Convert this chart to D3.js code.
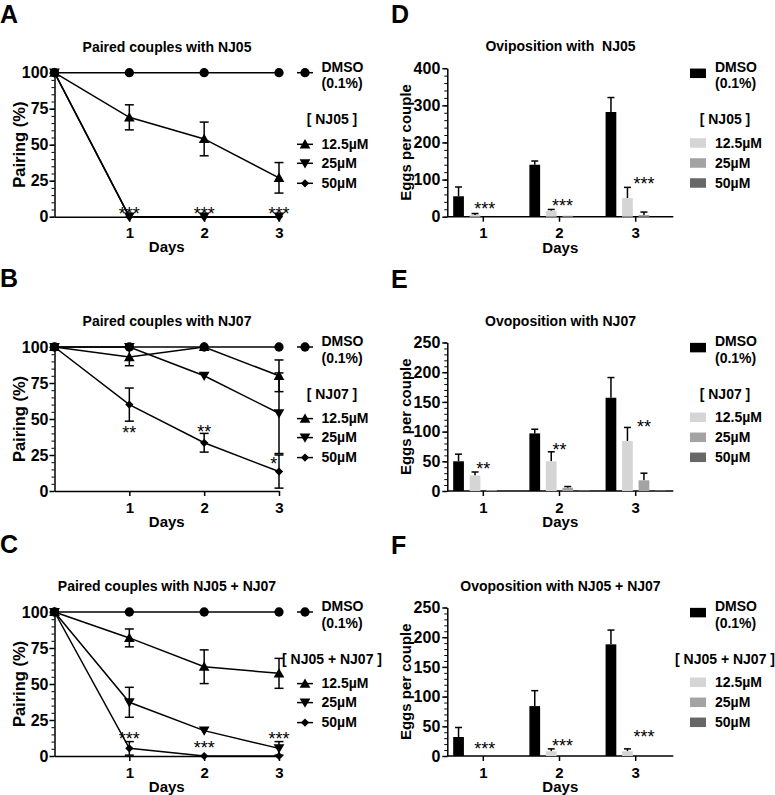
<!DOCTYPE html>
<html><head><meta charset="utf-8">
<script src="https://cdn.jsdelivr.net/npm/d3@7"></script>
<style>
html,body{margin:0;padding:0;background:#fff;}
svg{display:block;}
</style></head><body>
<svg id="chart" width="775" height="795"></svg>
<script>
// ================= DATA =================
const dayTicks = [1, 2, 3];
const lineDays = [0, 1, 2, 3];
const seriesNames = ["DMSO", "12.5µM", "25µM", "50µM"];
const concLabels = ["12.5µM", "25µM", "50µM"];
const panelLetters = ["A", "B", "C", "D", "E", "F"];
const lineTitles = ["Paired couples with NJ05", "Paired couples with NJ07", "Paired couples with NJ05 + NJ07"];
const barTitles = ["Oviposition with  NJ05", "Ovoposition with NJ07", "Ovoposition with NJ05 + NJ07"];
const headings = ["[ NJ05 ]", "[ NJ07 ]", "[ NJ05 + NJ07 ]"];
const pairTicks = [0, 25, 50, 75, 100];

// Panel A – pairing (%)
const pairA_DMSO = [100, 100, 100, 100];
const pairA_12 = [100, 69, 54, 27];
const pairA_12_err = [0, 8.7, 11.7, 10.6];
const pairA_25 = [100, 0, 0, 0];
const pairA_25_err = [0, 0, 0, 0];
const pairA_50 = [100, 0, 0, 0];
const pairA_50_err = [0, 0, 0, 0];
const starsA = [{day: 1, val: 5, txt: "***", dx: 0}, {day: 2, val: 5, txt: "***", dx: 0}, {day: 3, val: 5, txt: "***", dx: 0}];

// Panel B
const pairB_DMSO = [100, 100, 100, 100];
const pairB_12 = [100, 93, 100, 80];
const pairB_12_err = [0, 6, 0, 11];
const pairB_25 = [100, 100, 80, 54];
const pairB_25_err = [0, 0, 0, 28];
const pairB_50 = [100, 60, 33.5, 13.5];
const pairB_50_err = [0, 11.5, 6.5, 11.5];
const starsB = [{day: 1, val: 43, txt: "**", dx: 0}, {day: 2, val: 44, txt: "**", dx: 0}, {day: 3, val: 21.5, txt: "*", dx: -0.07}];

// Panel C
const pairC_DMSO = [100, 100, 100, 100];
const pairC_12 = [100, 82, 62, 57.4];
const pairC_12_err = [0, 6.2, 11.7, 10.4];
const pairC_25 = [100, 37.3, 17.6, 5.3];
const pairC_25_err = [0, 10.4, 0, 4.7];
const pairC_50 = [100, 5.3, 0, 0];
const pairC_50_err = [0, 4.7, 0, 0];
const starsC = [{day: 1, val: 14.6, txt: "***", dx: 0}, {day: 2, val: 8.1, txt: "***", dx: 0}, {day: 3, val: 14.6, txt: "***", dx: 0}];

// Panel D – eggs per couple
const eggsD_DMSO = [55, 140, 282];
const eggsD_DMSO_err = [25, 10, 39];
const eggsD_12 = [4.5, 16, 50];
const eggsD_12_err = [4, 3.5, 29];
const eggsD_25 = [0, 2.5, 4.5];
const eggsD_25_err = [0, 0, 8];
const eggsD_50 = [0, 0, 0];
const eggsD_50_err = [0, 0, 0];
const eggsD_ticks = [0, 100, 200, 300, 400];
const starsD = [{day: 1, val: 31.5, txt: "***", dx: 0.02}, {day: 2, val: 40.4, txt: "***", dx: 0.04}, {day: 3, val: 99, txt: "***", dx: 0.11}];

// Panel E
const eggsE_DMSO = [50, 97, 157];
const eggsE_DMSO_err = [12, 7, 34];
const eggsE_12 = [26, 50, 84];
const eggsE_12_err = [6, 16, 23];
const eggsE_25 = [1.5, 5.5, 18];
const eggsE_25_err = [0, 2, 12];
const eggsE_50 = [0, 1.5, 1.5];
const eggsE_50_err = [0, 0, 0];
const eggsE_ticks = [0, 50, 100, 150, 200, 250];
const starsE = [{day: 1, val: 43.5, txt: "**", dx: 0}, {day: 2, val: 75, txt: "**", dx: 0}, {day: 3, val: 115, txt: "**", dx: 0.11}];

// Panel F
const eggsF_DMSO = [32, 84, 188];
const eggsF_DMSO_err = [16, 26, 24];
const eggsF_12 = [0, 8, 8];
const eggsF_12_err = [0, 4, 4];
const eggsF_25 = [0, 0, 0];
const eggsF_25_err = [0, 0, 0];
const eggsF_50 = [0, 0, 0];
const eggsF_50_err = [0, 0, 0];
const eggsF_ticks = [0, 50, 100, 150, 200, 250];
const starsF = [{day: 1, val: 18.4, txt: "***", dx: 0.02}, {day: 2, val: 24, txt: "***", dx: 0.04}, {day: 3, val: 38, txt: "***", dx: 0.11}];

// ================= LAYOUT / STYLE =================
const FONT = "'Liberation Sans', Arial, Helvetica, sans-serif";
const rowTop = [72.7, 347, 612];
const letterBase = [22.7, 287, 553];
const plotH = 144;
const barColors = ["#000000", "#d5d5d5", "#a3a3a3", "#676767"];

const svg = d3.select("#chart").attr("font-family", FONT);

function txt(g, x, y, s, size, anchor) {
  return g.append("text").attr("x", x).attr("y", y).text(s)
    .attr("font-size", size).attr("font-weight", "bold")
    .attr("text-anchor", anchor || "start").attr("fill", "#000")
    .style("white-space", "pre");
}
function styleAxis(g, fs) {
  g.attr("font-family", FONT).attr("font-size", fs).attr("font-weight", "bold");
  g.selectAll("path.domain").attr("stroke-width", 1.5).attr("stroke", "#000");
  g.selectAll(".tick line").attr("stroke-width", 1.5).attr("stroke", "#000");
  g.selectAll(".tick text").attr("fill", "#000");
}

const symCircle = d3.symbol().type(d3.symbolCircle).size(68)();
const symTri = d3.symbol().type(d3.symbolTriangle).size(50)();
const symDiamond = d3.symbol().type(d3.symbolSquare).size(34)();
function marker(g, k, cx, cy) {
  if (k === 0) g.append("path").attr("d", symCircle).attr("transform", `translate(${cx},${cy})`);
  else if (k === 1) g.append("path").attr("d", symTri).attr("transform", `translate(${cx},${cy + 1})`);
  else if (k === 2) g.append("path").attr("d", symTri).attr("transform", `translate(${cx},${cy - 1}) rotate(180)`);
  else g.append("path").attr("d", symDiamond).attr("transform", `translate(${cx},${cy}) rotate(45)`);
}

// ================= LINE PANELS =================
const linePanels = [
  {vals: [pairA_DMSO, pairA_12, pairA_25, pairA_50], errs: [null, pairA_12_err, pairA_25_err, pairA_50_err], stars: starsA},
  {vals: [pairB_DMSO, pairB_12, pairB_25, pairB_50], errs: [null, pairB_12_err, pairB_25_err, pairB_50_err], stars: starsB},
  {vals: [pairC_DMSO, pairC_12, pairC_25, pairC_50], errs: [null, pairC_12_err, pairC_25_err, pairC_50_err], stars: starsC}
];

linePanels.forEach((p, i) => {
  const top = rowTop[i], bottom = top + plotH;
  const x = d3.scaleLinear().domain([0, 3]).range([54.5, 279]);
  const y = d3.scaleLinear().domain([0, 100]).range([bottom, top]);
  const g = svg.append("g");

  txt(g, 0, letterBase[i], panelLetters[i], 25);
  txt(g, 167, top - 21, lineTitles[i], 14, "middle");

  // minor ticks
  const minor = g.append("g").attr("transform", `translate(${x(0)},0)`)
    .call(d3.axisLeft(y).tickValues(d3.range(0, 101, 5)).tickSize(3).tickFormat(""));
  minor.select(".domain").remove();
  minor.selectAll(".tick line").attr("stroke", "#000").attr("stroke-width", 1);
  const ya = g.append("g").attr("transform", `translate(${x(0)},0)`)
    .call(d3.axisLeft(y).tickValues(pairTicks).tickSize(5).tickSizeOuter(0).tickPadding(1));
  styleAxis(ya, 16);
  const xa = g.append("g").attr("transform", `translate(0,${bottom})`)
    .call(d3.axisBottom(x).tickValues(dayTicks).tickFormat(d3.format("d")).tickSize(5).tickSizeOuter(0).tickPadding(6));
  styleAxis(xa, 15);

  txt(g, 0, 0, "Pairing (%)", 16.5, "middle").attr("transform", `translate(24.5,${(top + bottom) / 2}) rotate(-90)`);
  txt(g, (x(0) + x(3)) / 2, bottom + 35.5, "Days", 15, "middle");

  const line = d3.line().x((d, j) => x(lineDays[j])).y(d => y(d));
  p.vals.forEach((vals, k) => {
    g.append("path").attr("d", line(vals)).attr("fill", "none").attr("stroke", "#000").attr("stroke-width", 1.5);
    const errs = p.errs[k];
    if (errs) errs.forEach((e, j) => {
      if (e <= 0) return;
      const cx = x(lineDays[j]);
      const y1 = y(vals[j] + e), y2 = y(Math.max(0, vals[j] - e));
      g.append("line").attr("x1", cx).attr("x2", cx).attr("y1", y1).attr("y2", y2).attr("stroke", "#000").attr("stroke-width", 1.5);
      [y1, y2].forEach(yy => g.append("line").attr("x1", cx - 4.5).attr("x2", cx + 4.5).attr("y1", yy).attr("y2", yy).attr("stroke", "#000").attr("stroke-width", 1.5));
    });
    vals.forEach((v, j) => marker(g, k, x(lineDays[j]), y(v)));
  });

  p.stars.forEach(s => {
    g.append("text").attr("x", x(s.day + s.dx)).attr("y", y(s.val) + 10).text(s.txt)
      .attr("font-size", 18).attr("text-anchor", "middle").attr("fill", "#000");
  });

  // legend
  const lg = g.append("g");
  const legY = [top, top + 71.6, top + 90.6, top + 110.6];
  legY.forEach((ly, k) => {
    lg.append("line").attr("x1", 297).attr("x2", 313).attr("y1", ly).attr("y2", ly).attr("stroke", "#000").attr("stroke-width", 1.5);
    marker(lg, k, 305, ly);
  });
  txt(lg, 321.5, top - 1, "DMSO", 14);
  txt(lg, 321.5, top + 15.5, "(0.1%)", 14);
  txt(lg, 332, top + 51.5, headings[i], 14, "middle");
  concLabels.forEach((c, k) => txt(lg, 321.5, legY[k + 1] + 4.5, c, 14));
});

// ================= BAR PANELS =================
const barPanels = [
  {vals: [eggsD_DMSO, eggsD_12, eggsD_25, eggsD_50], errs: [eggsD_DMSO_err, eggsD_12_err, eggsD_25_err, eggsD_50_err], ticks: eggsD_ticks, stars: starsD},
  {vals: [eggsE_DMSO, eggsE_12, eggsE_25, eggsE_50], errs: [eggsE_DMSO_err, eggsE_12_err, eggsE_25_err, eggsE_50_err], ticks: eggsE_ticks, stars: starsE},
  {vals: [eggsF_DMSO, eggsF_12, eggsF_25, eggsF_50], errs: [eggsF_DMSO_err, eggsF_12_err, eggsF_25_err, eggsF_50_err], ticks: eggsF_ticks, stars: starsF}
];

barPanels.forEach((p, i) => {
  const bottom = rowTop[i] + plotH, top = rowTop[i] - 4.5;
  const axX0 = 447.3, axX1 = 673.3;
  const x0 = d3.scaleBand().domain(dayTicks).range([445.2, 673.8]).padding(0);
  const x1 = d3.scaleBand().domain(seriesNames).range([-33, 33]).paddingInner(0.35).paddingOuter(0.175);
  const yMax = p.ticks[p.ticks.length - 1];
  const y = d3.scaleLinear().domain([0, yMax]).range([bottom, top]);
  const g = svg.append("g");

  txt(g, 391, i === 0 ? 22.7 : letterBase[i] + 1, panelLetters[i + 3], 25);
  txt(g, 560.5, top - 17, barTitles[i], 14, "middle");

  const step = p.ticks[1] / 5;
  const minor = g.append("g").attr("transform", `translate(${axX0},0)`)
    .call(d3.axisLeft(y).tickValues(d3.range(0, yMax + 0.001, step)).tickSize(3).tickFormat(""));
  minor.select(".domain").remove();
  minor.selectAll(".tick line").attr("stroke", "#000").attr("stroke-width", 1);
  const ya = g.append("g").attr("transform", `translate(${axX0},0)`)
    .call(d3.axisLeft(y).tickValues(p.ticks).tickSize(5).tickSizeOuter(0).tickPadding(2));
  styleAxis(ya, 16);
  const xa = g.append("g").attr("transform", `translate(0,${bottom})`)
    .call(d3.axisBottom(x0).tickSize(5).tickSizeOuter(0).tickPadding(6));
  xa.select(".domain").attr("d", `M${axX0},0H${axX1}`);
  styleAxis(xa, 15);

  txt(g, 0, 0, "Eggs per couple", 15, "middle").attr("transform", `translate(411,${(top + bottom) / 2}) rotate(-90)`);
  txt(g, (axX0 + axX1) / 2, bottom + 36.3, "Days", 15, "middle");

  p.vals.forEach((vals, k) => {
    vals.forEach((v, j) => {
      const bx = x0(dayTicks[j]) + x0.bandwidth() / 2 + x1(seriesNames[k]);
      const cx = bx + x1.bandwidth() / 2;
      const e = p.errs[k][j];
      if (e > 0) {
        const ye = y(v + e);
        g.append("line").attr("x1", cx).attr("x2", cx).attr("y1", y(v)).attr("y2", ye).attr("stroke", "#000").attr("stroke-width", 1.5);
        g.append("line").attr("x1", cx - 3.5).attr("x2", cx + 3.5).attr("y1", ye).attr("y2", ye).attr("stroke", "#000").attr("stroke-width", 1.5);
      }
      if (v > 0) g.append("rect").attr("x", bx).attr("y", y(v)).attr("width", x1.bandwidth())
        .attr("height", y(0) - y(v)).attr("fill", barColors[k]);
    });
  });

  p.stars.forEach(s => {
    const cx = x0(s.day) + x0.bandwidth() / 2 + s.dx * x0.step();
    g.append("text").attr("x", cx).attr("y", y(s.val) + 10).text(s.txt)
      .attr("font-size", 18).attr("text-anchor", "middle").attr("fill", "#000");
  });

  // legend
  const lt = rowTop[i];
  const legY = [lt + 0.6, lt + 70.3, lt + 90.3, lt + 110.3];
  legY.forEach((ly, k) => {
    g.append("rect").attr("x", 690).attr("y", ly - 4.75).attr("width", 16).attr("height", 9.5).attr("fill", barColors[k]);
  });
  txt(g, 715, lt - 1, "DMSO", 14);
  txt(g, 715, lt + 15.5, "(0.1%)", 14);
  txt(g, 725, lt + 51.5, headings[i], 14, "middle");
  concLabels.forEach((c, k) => txt(g, 715, legY[k + 1] + 5, c, 14));
});
</script>
</body></html>
